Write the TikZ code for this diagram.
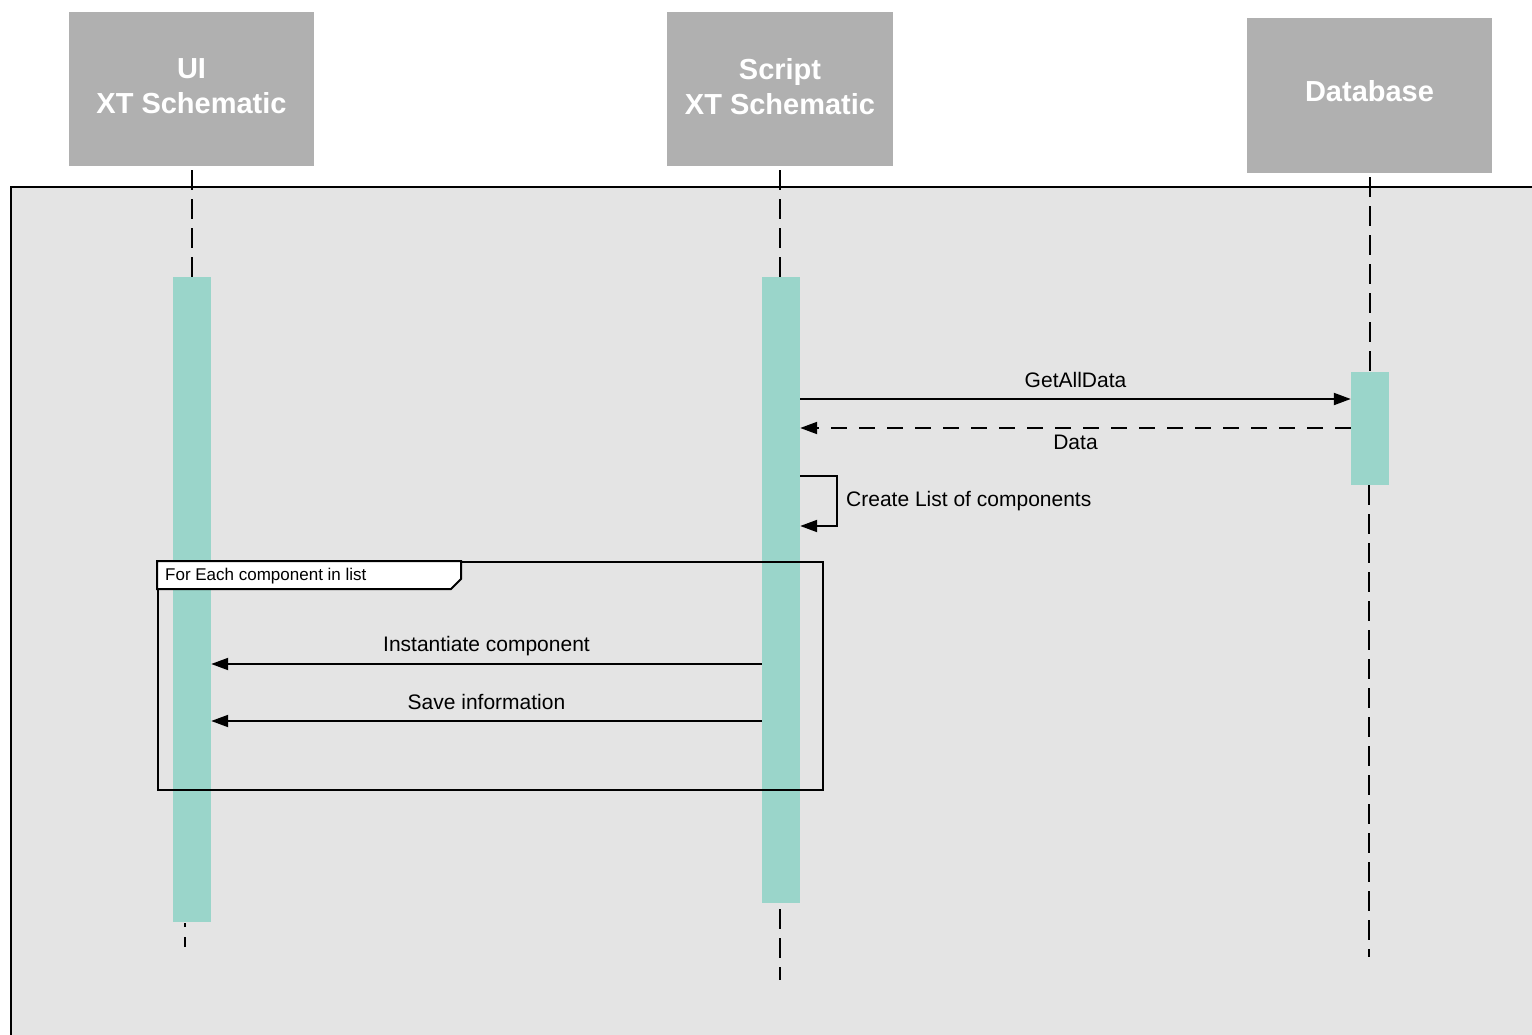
\documentclass[tikz,border=0pt]{standalone}
\usepackage{fontspec}
\setmainfont{Liberation Sans}
\usetikzlibrary{positioning,calc,arrows.meta}
\definecolor{headgray}{RGB}{176,176,176}
\definecolor{actteal}{RGB}{154,213,202}
\definecolor{panelgray}{RGB}{228,228,228}

\begin{document}
\begin{tikzpicture}[x=1pt,y=-1pt]
  \useasboundingbox (0,0) rectangle (1532,1035);
  \path[fill=panelgray] (11,187) rectangle (1545,1045);
  \draw[line width=2pt] (11,1045) -- (11,187) -- (1545,187);
  \begin{scope}[
    every node/.style={
      align=center,
      anchor=center,
      fill=headgray,
      text=white,
      inner sep=0pt,
      font=\fontsize{29}{35}\selectfont\bfseries,
    },
    ]
    \node[minimum width=245pt,minimum height=154pt,text depth=6pt] (ui)     at (191.5,89)   {UI\\XT Schematic};
    \node[minimum width=226pt,minimum height=154pt,text depth=6pt] (script) at (780,89)     {Script\\XT Schematic};
    \node[minimum width=245pt,minimum height=155pt,text depth=10pt] (db)    at (1369.5,95.5) {Database};
  \end{scope}
  \begin{scope}[
    every node/.style={fill=actteal,minimum width=38pt,inner sep=0pt},
    ]
    \node[minimum height=645pt] (ui-act)     at (192,599.5) {};
    \node[minimum height=626pt] (script-act) at (781,590)   {};
    \node[minimum height=113pt] (db-act)     at (1370,428.5) {};
  \end{scope}
  \coordinate (ui-end)     at (185,947);
  \coordinate (script-end) at (780,980);
  \coordinate (db-end)     at (1369,957);
  \begin{scope}[every path/.style={draw,line width=2pt,dash pattern=on 20pt off 9pt}]
    \path ([yshift=-4pt]ui.south)     -- (ui.south |- ui-act.north);
    \path ([yshift=-4pt]script.south) -- (script.south |- script-act.north);
    \path ([yshift=-4pt]db.south)     -- (db.south |- db-act.north);
    \path[dash pattern=on 4pt off 10pt on 10pt off 10pt] ([yshift=-1pt]ui-end |- ui-act.south) -- (ui-end);
    \path ([yshift=-6pt]script-end |- script-act.south) -- (script-end);
    \path (db-end |- db-act.south)                      -- (db-end);
  \end{scope}
  % loop frame
  \node[draw,line width=2pt,minimum width=665pt,minimum height=228pt,inner sep=0pt]
    (loop) at (490.5,676) {};
  \draw[line width=2pt,fill=white] (loop.north west) -- ++(304,0) -- ++(0,18)
    -- ++(-10,10) -- ++(-294,0) -- cycle;
  \node[anchor=west,inner sep=0pt,font=\fontsize{17}{20}\selectfont]
    (loop-label) at ($(loop.north west)+(8,15)$) {For Each component in list};
  \begin{scope}[
    every node/.style={inner sep=0pt,font=\fontsize{21}{25}\selectfont},
    every edge/.style={draw,line width=2pt},
    >={Triangle[length=17pt,width=12pt]},
    ]
    \path[->]
    (script-act.east |- 0,399) edge node[above=10pt]{GetAllData} (db-act.west |- 0,399)
    (script-act.west |- 0,664) edge node[above=7pt]{Instantiate component} (ui-act.east |- 0,664)
    (script-act.west |- 0,721) edge node[above=10pt]{Save information} (ui-act.east |- 0,721);
    \path[->,dash pattern=on 16pt off 12pt]
    (db-act.west |- 0,428) edge node[below=6pt]{Data} (script-act.east |- 0,428);
    \draw[->,line width=2pt] (script-act.east |- 0,476) -- ++(37,0)
      |- node[pos=0.25,right=8pt]{Create List of components} (script-act.east |- 0,526);
  \end{scope}
\end{tikzpicture}
\end{document}
